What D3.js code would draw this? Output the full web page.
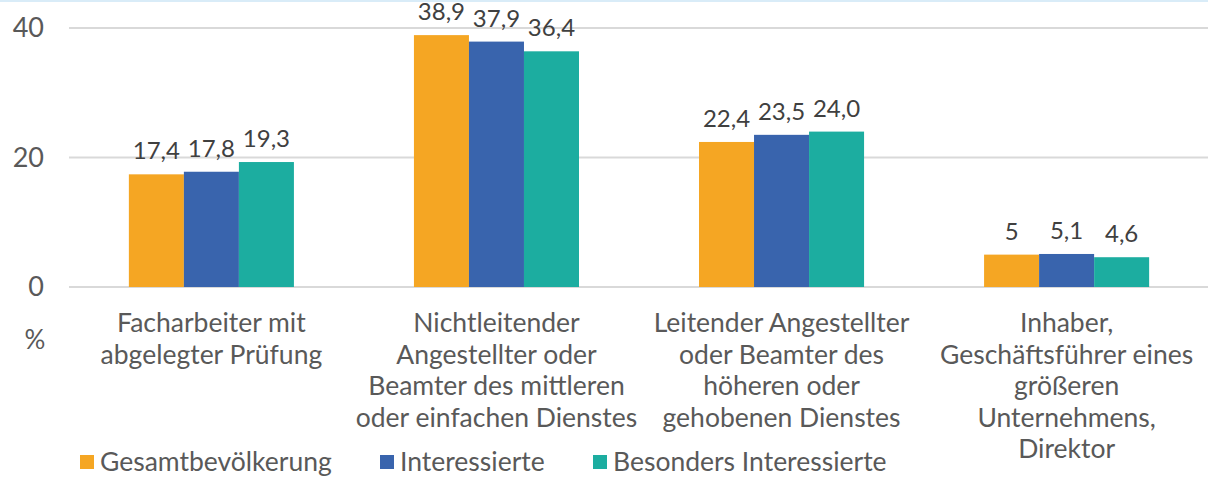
<!DOCTYPE html>
<html>
<head>
<meta charset="utf-8">
<script src="https://cdnjs.cloudflare.com/ajax/libs/d3/7.8.5/d3.min.js"></script>
<style>
  body { margin: 0; background: #fff; }
  text { font-family: Lato, "Open Sans", sans-serif; }
</style>
</head>
<body>
<div id="chart"></div>
<script>
const categories = [
  ['Facharbeiter mit', 'abgelegter Prüfung'],
  ['Nichtleitender', 'Angestellter oder', 'Beamter des mittleren', 'oder einfachen Dienstes'],
  ['Leitender Angestellter', 'oder Beamter des', 'höheren oder', 'gehobenen Dienstes'],
  ['Inhaber,', 'Geschäftsführer eines', 'größeren', 'Unternehmens,', 'Direktor']
];
const seriesNames = ['Gesamtbevölkerung', 'Interessierte', 'Besonders Interessierte'];
const gesamt = [17.4, 38.9, 22.4, 5];
const interessierte = [17.8, 37.9, 23.5, 5.1];
const besonders = [19.3, 36.4, 24.0, 4.6];
const labels = [
  ['17,4', '38,9', '22,4', '5'],
  ['17,8', '37,9', '23,5', '5,1'],
  ['19,3', '36,4', '24,0', '4,6']
];
const yTicks = [0, 20, 40];
const colors = ['#F5A623', '#3964AD', '#1CADA0'];

const width = 1208;
const height = 477;
const values = [gesamt, interessierte, besonders];

const svg = d3.select('#chart').append('svg')
    .attr('width', width)
    .attr('height', height);

// thin top border
svg.append('rect')
    .attr('x', 0).attr('y', 0)
    .attr('width', width).attr('height', 2)
    .attr('fill', '#d9ecf8');

const x = d3.scaleBand()
    .domain(d3.range(categories.length))
    .range([69, 1209])
    .paddingInner(0.421)
    .paddingOuter(0.21);

const xs = d3.scaleBand()
    .domain(d3.range(seriesNames.length))
    .range([0, x.bandwidth()]);

const y = d3.scaleLinear()
    .domain([0, 40])
    .range([287, 28]);

// gridlines
svg.append('g')
  .selectAll('line')
    .data(yTicks)
  .enter()
    .append('line')
    .attr('x1', 69)
    .attr('x2', width)
    .attr('y1', (d) => y(d))
    .attr('y2', (d) => y(d))
    .attr('stroke', '#d9d9d9')
    .attr('stroke-width', 2);

// y tick labels
svg.append('g')
  .selectAll('text')
    .data(yTicks)
  .enter()
    .append('text')
    .attr('x', 44)
    .attr('y', (d) => y(d))
    .attr('dy', '0.35em')
    .attr('text-anchor', 'end')
    .attr('fill', '#595959')
    .style('font-size', '27px')
    .text((d) => d);

svg.append('text')
    .attr('x', 35)
    .attr('y', 340)
    .attr('dy', '0.35em')
    .attr('text-anchor', 'middle')
    .attr('fill', '#595959')
    .style('font-size', '26px')
    .text('%');

// bars
const group = svg.selectAll('.cat')
    .data(categories)
  .enter()
    .append('g')
    .attr('class', 'cat')
    .attr('transform', (d, i) => `translate(${x(i)},0)`);

const rows = (d, i) => values.map((s, j) => ({ j, v: s[i], label: labels[j][i] }));

group.selectAll('rect')
    .data(rows)
  .enter()
    .append('rect')
    .attr('x', (d) => xs(d.j))
    .attr('width', xs.bandwidth())
    .attr('y', (d) => y(d.v))
    .attr('height', (d) => y(0) - y(d.v))
    .attr('fill', (d) => colors[d.j]);

group.selectAll('.val')
    .data(rows)
  .enter()
    .append('text')
    .attr('class', 'val')
    .attr('x', (d) => xs(d.j) + xs.bandwidth() / 2)
    .attr('y', (d) => y(d.v) - 15)
    .attr('text-anchor', 'middle')
    .attr('fill', '#404040')
    .style('font-size', '24px')
    .text((d) => d.label);

// category labels
group.append('text')
    .attr('text-anchor', 'middle')
    .attr('fill', '#595959')
    .style('font-size', '26.5px')
  .selectAll('tspan')
    .data((d) => d)
  .enter()
    .append('tspan')
    .attr('x', x.bandwidth() / 2)
    .attr('y', (d, i) => 323 + i * 31.5)
    .attr('dy', '0.35em')
    .text((d) => d);

// legend
const legendX = [80, 380, 593];
const legend = svg.selectAll('.legend')
    .data(seriesNames)
  .enter()
    .append('g')
    .attr('class', 'legend')
    .attr('transform', (d, i) => `translate(${legendX[i]},462)`);

legend.append('rect')
    .attr('x', 0)
    .attr('y', -7)
    .attr('width', 14)
    .attr('height', 14)
    .attr('fill', (d, i) => colors[i]);

legend.append('text')
    .attr('x', 20)
    .attr('y', 0)
    .attr('dy', '0.35em')
    .attr('fill', '#595959')
    .style('font-size', '26.5px')
    .text((d) => d);
</script>
</body>
</html>
